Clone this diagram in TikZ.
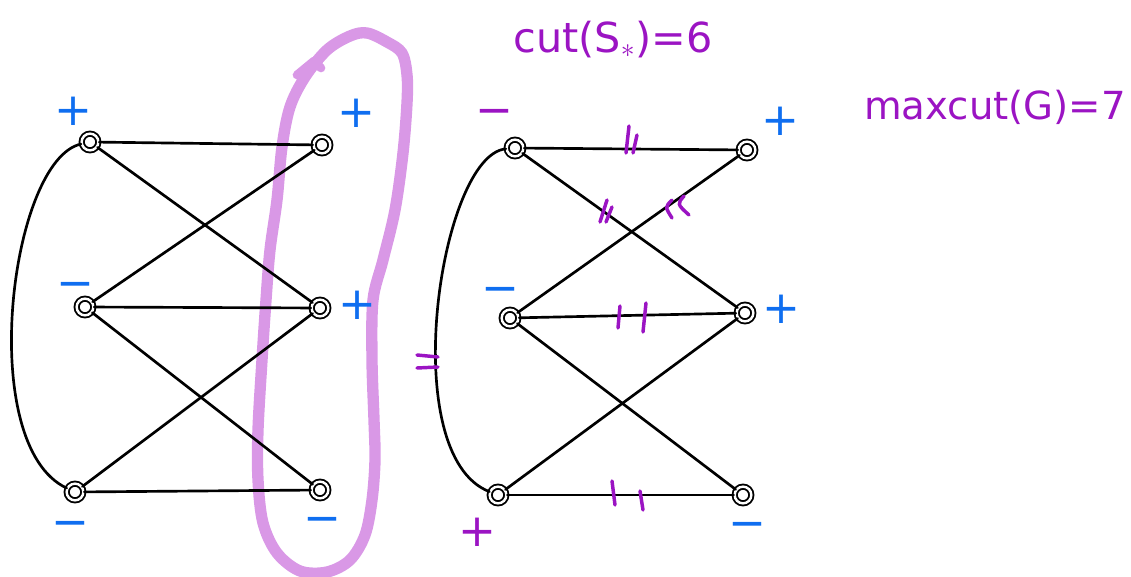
\documentclass[tikz,border=0pt]{standalone}
\usepackage{fontspec}
\newfontfamily\hand{DejaVu Sans}
\definecolor{pur}{RGB}{155,20,195}
\definecolor{blu}{RGB}{15,110,240}
\definecolor{loopc}{RGB}{217,152,230}
\begin{document}
\begin{tikzpicture}[x=0.75pt,y=-0.75pt,
  vtx/.style={draw, circle, inner sep=0pt, minimum size=12.5pt, line width=1.4pt, double=white, double distance=1.8pt},
  edge/.style={line width=2pt, line cap=round},
  sgn/.style={font=\hand\fontsize{34}{34}\selectfont, inner sep=0pt, text height=23.1pt, text depth=0pt},
  bsgn/.style={sgn, text=blu},
  psgn/.style={sgn, text=pur},
  tick/.style={pur, line width=2.6pt, line cap=round},
  lbl/.style={font=\hand\fontsize{29}{29}\selectfont, text=pur, inner sep=0pt},
  cutloop/.style={loopc, line width=8.5pt, line cap=round, line join=round}]
\useasboundingbox (0,0) rectangle (1131,577);

% purple loop around S*
\draw[cutloop] plot[smooth cycle, tension=0.55] coordinates {
  (305,77) (327,50) (350,36) (367,33) (387,42) (402,53) (407,75) (407,103)
  (403,153) (395,210) (383,260) (373,300) (372,360) (374,420) (375,460)
  (372,500) (365,535) (350,560) (327,572) (300,571) (277,553) (263,523)
  (258,480) (258,430) (262,360) (266,300) (270,250) (277,200) (282,147) (290,107)};
\draw[cutloop, line width=6.5pt] (297,75) -- (314,61) -- (321,68);

% left graph
\node[vtx] (a1) at (90,142) {};
\node[vtx] (a2) at (85,307) {};
\node[vtx] (a3) at (75,492) {};
\node[vtx] (b1) at (322,145) {};
\node[vtx] (b2) at (320,308) {};
\node[vtx] (b3) at (320,490) {};
\draw[edge] (a1) -- (b1);
\draw[edge] (a1) -- (b2);
\draw[edge] (a2) -- (b1);
\draw[edge] (a2) -- (b2);
\draw[edge] (a2) -- (b3);
\draw[edge] (a3) -- (b2);
\draw[edge] (a3) -- (b3);
\draw[edge] (a1) .. controls (10,160) and (-25,445) .. (a3);

\node[bsgn] (sa1) at (73,110) {+};
\node[bsgn] (sa2) at (75,283) {−};
\node[bsgn] (sa3) at (70,522) {−};
\node[bsgn] (sb1) at (356,112) {+};
\node[bsgn] (sb2) at (357,304) {+};
\node[bsgn] (sb3) at (322,518) {−};

% right graph
\node[vtx] (c1) at (515,148) {};
\node[vtx] (c2) at (510,318) {};
\node[vtx] (c3) at (498,495) {};
\node[vtx] (d1) at (747,150) {};
\node[vtx] (d2) at (745,313) {};
\node[vtx] (d3) at (743,495) {};
\draw[edge] (c1) -- (d1);
\draw[edge] (c1) -- (d2);
\draw[edge] (c2) -- (d1);
\draw[edge] (c2) -- (d2);
\draw[edge] (c2) -- (d3);
\draw[edge] (c3) -- (d2);
\draw[edge] (c3) -- (d3);
\draw[edge] (c1) .. controls (440,155) and (395,455) .. (c3);

\node[psgn] (sc1) at (494,110) {−};
\node[bsgn] (sc2) at (500,288) {−};
\node[psgn] (sc3) at (477,531) {+};
\node[bsgn] (sd1) at (780,120) {+};
\node[bsgn] (sd2) at (781,308) {+};
\node[bsgn] (sd3) at (747,523) {−};

% cut marks
\draw[tick] (629,126) -- (626,153);
\draw[tick] (637,135) -- (633,153);
\draw[tick] (607,200) -- (600,222);
\draw[tick] (612,207) -- (606,222);
\draw[tick] (672,200) .. controls (665,207) .. (672,218);
\draw[tick] (684,196) .. controls (677,204) .. (689,215);
\draw[tick] (620,306) -- (618,328);
\draw[tick] (646,303) -- (643,332);
\draw[tick] (612,481) -- (615,505);
\draw[tick] (640,491) -- (643,510);
\draw[tick] (417,355) -- (438,357);
\draw[tick] (417,368) -- (438,367);

% labels
\node[lbl, font=\hand\fontsize{31}{31}\selectfont] (cut) at (613,40) {cut(S$_{*}$)=6};
\node[lbl] (maxcut) at (995,107) {maxcut(G)=7};
\end{tikzpicture}
\end{document}
